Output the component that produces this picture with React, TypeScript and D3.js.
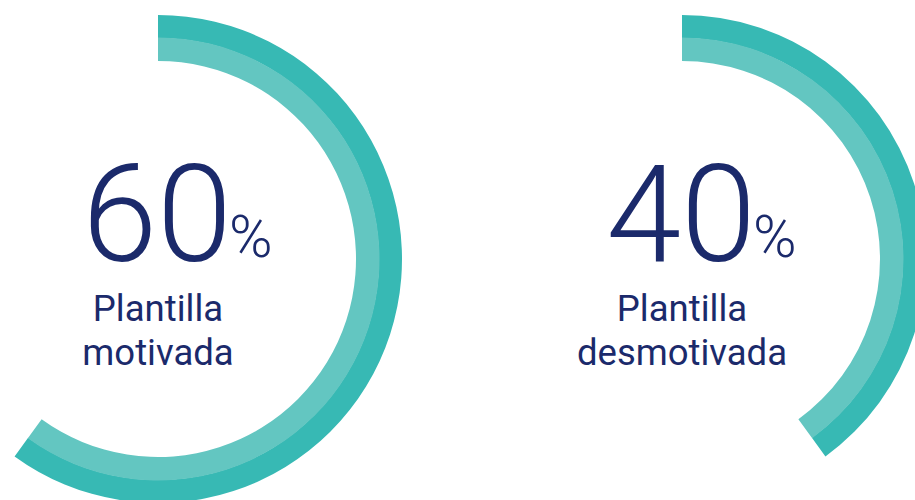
import React from 'react';
import * as d3 from 'd3';

const values = [60, 40];
const labelLines = [
  ['Plantilla', 'motivada'],
  ['Plantilla', 'desmotivada'],
];
const centersX = [158, 682];

const outerColor = '#37b9b4';
const innerColor = '#63c6c1';
const textColor = '#1b2a6b';

export default function App() {
  const width = 915;
  const height = 500;
  const cy = 259;

  const angle = d3.scaleLinear().domain([0, 100]).range([0, 2 * Math.PI]);

  const outerBand = d3.arc<number>()
    .innerRadius(221)
    .outerRadius(244)
    .startAngle(0)
    .endAngle(d => angle(d));

  const innerBand = d3.arc<number>()
    .innerRadius(198)
    .outerRadius(221.5)
    .startAngle(0)
    .endAngle(d => angle(d));

  return (
    <div style={{ position: 'absolute', left: 0, top: 0 }}>
      <svg width={width} height={height} style={{ display: 'block', background: '#fff' }}>
        {values.map((v, i) => (
          <g key={i} transform={`translate(${centersX[i]},${cy})`}>
            <path d={outerBand(v) || ''} fill={outerColor} />
            <path d={innerBand(v) || ''} fill={innerColor} />
            <text
              x={-1}
              y={2}
              textAnchor="middle"
              fill={textColor}
              style={{ fontFamily: 'Roboto', fontWeight: 300, fontSize: '135px' }}
            >
              {v}
            </text>
            <text
              x={71}
              y={-2}
              fill={textColor}
              style={{ fontFamily: 'Roboto', fontWeight: 300, fontSize: '59px' }}
            >
              %
            </text>
            {labelLines[i].map((line, j) => (
              <text
                key={j}
                x={0}
                y={62 + j * 44}
                textAnchor="middle"
                fill={textColor}
                style={{ fontFamily: 'Roboto', fontWeight: 400, fontSize: '36.5px' }}
              >
                {line}
              </text>
            ))}
          </g>
        ))}
      </svg>
    </div>
  );
}
